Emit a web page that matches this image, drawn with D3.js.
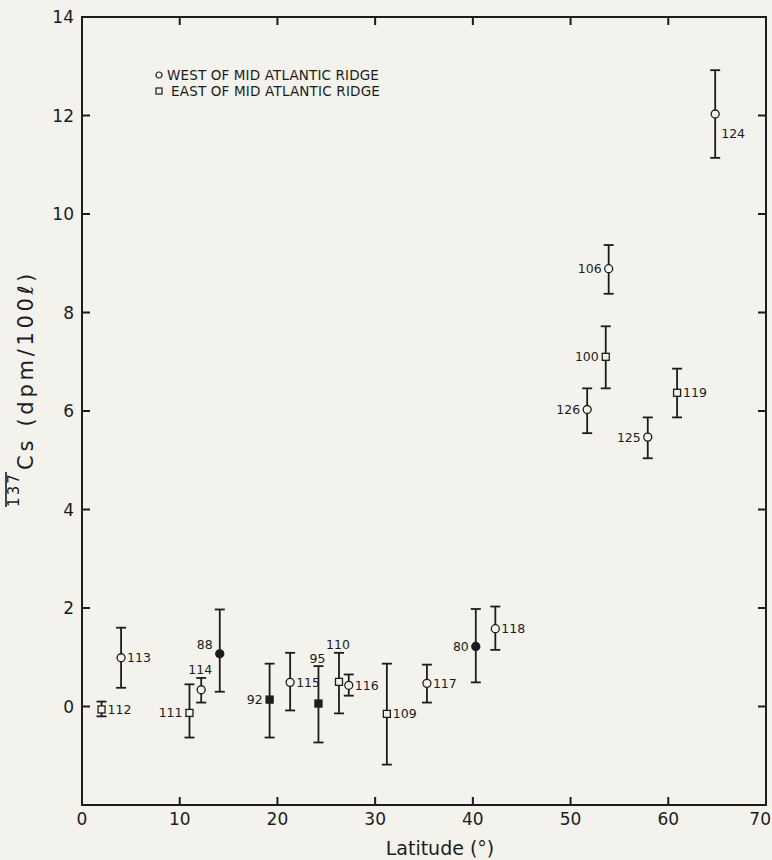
<!DOCTYPE html>
<html>
<head>
<meta charset="utf-8">
<script src="https://cdn.jsdelivr.net/npm/d3@7"></script>
<style>
	html, body { margin: 0; padding: 0; background: #f3f2ed; }
	svg { display: block; }
	text { font-family: 'DejaVu Sans', sans-serif; fill: #1c1c1c; }
</style>
</head>
<body>
<div id="chart"></div>
<script>
// station numbers and readings (latitude in degrees, 137Cs in dpm/100 l)
var stations = ['112', '113', '111', '114', '88', '92', '115', '95', '110', '116',
								'109', '117', '80', '118', '126', '100', '106', '125', '119', '124'];
var latitude = [2, 4, 11, 12.2, 14.1, 19.2, 21.3, 24.2, 26.3, 27.3,
								31.2, 35.3, 40.3, 42.3, 51.7, 53.6, 53.9, 57.9, 60.9, 64.8];
var cesium = [-0.06, 0.99, -0.13, 0.34, 1.07, 0.14, 0.49, 0.06, 0.5, 0.43,
							-0.15, 0.47, 1.22, 1.58, 6.03, 7.1, 8.89, 5.47, 6.37, 12.03];
var errHigh = [0.1, 1.6, 0.45, 0.58, 1.97, 0.87, 1.09, 0.82, 1.09, 0.65,
							 0.87, 0.85, 1.98, 2.03, 6.46, 7.72, 9.37, 5.87, 6.86, 12.92];
var errLow = [-0.2, 0.38, -0.63, 0.08, 0.3, -0.63, -0.08, -0.73, -0.14, 0.22,
							-1.18, 0.08, 0.49, 1.15, 5.55, 6.46, 8.38, 5.04, 5.87, 11.14];
var shapes = ['square', 'circle', 'square', 'circle', 'circle', 'square', 'circle', 'square', 'square', 'circle',
							'square', 'circle', 'circle', 'circle', 'circle', 'square', 'circle', 'circle', 'square', 'circle'];
var filled = [false, false, false, false, true, true, false, true, false, false,
							false, false, true, false, false, false, false, false, false, false];

var xTicks = [0, 10, 20, 30, 40, 50, 60, 70];
var yTicks = [0, 2, 4, 6, 8, 10, 12, 14];
var legendItems = ['WEST OF MID ATLANTIC RIDGE', 'EAST OF MID ATLANTIC RIDGE'];

// where each station number sits next to its point
var labelSide = {
	'111': 'left', '92': 'left', '80': 'left', '126': 'left', '100': 'left',
	'106': 'left', '125': 'left', '88': 'upleft',
	'114': 'top', '95': 'top', '110': 'top', '124': 'lowright'
};

var width = 772, height = 860;
var ink = '#1c1c1c';
var paper = '#f3f2ed';

var svg = d3.select('#chart').append('svg')
	.attr('width', width)
	.attr('height', height);

var x = d3.scaleLinear().domain([0, 70]).range([82, 766]);
var y = d3.scaleLinear().domain([-2, 14]).range([805, 17]);

var data = stations.map(function (s, i) {
	return {
		id: s, lat: latitude[i], v: cesium[i],
		hi: errHigh[i], lo: errLow[i],
		shape: shapes[i], filled: filled[i]
	};
});

// stretch a text element out to a given length with letter spacing
function spreadTo (el, len) {
	var n = el.textContent.length;
	var cur = el.getComputedTextLength();
	d3.select(el).style('letter-spacing', ((len - cur) / n) + 'px');
};

// frame
var frame = svg.append('g')
	.attr('stroke', ink)
	.attr('stroke-width', 2)
	.attr('fill', 'none');

frame.append('rect')
	.attr('x', x(0))
	.attr('y', y(14))
	.attr('width', x(70) - x(0))
	.attr('height', y(-2) - y(14));

var tickLen = 8;

// bottom and top ticks (inward)
frame.selectAll('.xb').data(xTicks.slice(1, -1)).enter().append('line')
	.attr('x1', function (d) { return x(d); })
	.attr('x2', function (d) { return x(d); })
	.attr('y1', y(-2))
	.attr('y2', y(-2) - tickLen);

frame.selectAll('.xt').data(xTicks.slice(1, -1)).enter().append('line')
	.attr('x1', function (d) { return x(d); })
	.attr('x2', function (d) { return x(d); })
	.attr('y1', y(14))
	.attr('y2', y(14) + tickLen);

// left and right ticks (inward)
frame.selectAll('.yl').data(yTicks.slice(0, -1)).enter().append('line')
	.attr('x1', x(0))
	.attr('x2', x(0) + tickLen)
	.attr('y1', function (d) { return y(d); })
	.attr('y2', function (d) { return y(d); });

frame.selectAll('.yr').data(yTicks.slice(0, -1)).enter().append('line')
	.attr('x1', x(70))
	.attr('x2', x(70) - tickLen)
	.attr('y1', function (d) { return y(d); })
	.attr('y2', function (d) { return y(d); });

// tick labels
svg.selectAll('.xlab').data(xTicks).enter().append('text')
	.attr('x', function (d) { return d === 70 ? width - 1 : x(d); })
	.attr('y', y(-2) + 20)
	.attr('text-anchor', function (d) { return d === 70 ? 'end' : 'middle'; })
	.style('font-size', '17px')
	.text(function (d) { return d; });

svg.selectAll('.ylab').data(yTicks).enter().append('text')
	.attr('x', x(0) - 8)
	.attr('y', function (d) { return y(d); })
	.attr('dy', '0.36em')
	.attr('text-anchor', 'end')
	.style('font-size', '17px')
	.text(function (d) { return d; });

// axis titles
svg.append('text')
	.attr('x', 440)
	.attr('y', 855)
	.attr('text-anchor', 'middle')
	.style('font-size', '19px')
	.text('Latitude (°)');

var yTitle = svg.append('g')
	.attr('transform', 'translate(33, 507) rotate(-90)');

var mass = yTitle.append('text')
	.attr('x', 0)
	.attr('y', -14)
	.style('font-size', '15px')
	.text('137');
spreadTo(mass.node(), 35);

var unit = yTitle.append('text')
	.attr('x', 37)
	.attr('y', 0)
	.style('font-size', '21px')
	.text('Cs (dpm/100ℓ)');
spreadTo(unit.node(), 200);

// overline across the mass number
yTitle.append('line')
	.attr('x1', 0)
	.attr('x2', 35)
	.attr('y1', -27)
	.attr('y2', -27)
	.attr('stroke', ink)
	.attr('stroke-width', 1.6);

// legend
var legend = svg.append('g')
	.attr('transform', 'translate(159, 75)');

legendItems.forEach(function (t, i) {
	var g = legend.append('g')
		.attr('transform', 'translate(0,' + (i * 16) + ')');
	if (i === 0) {
		g.append('circle').attr('r', 3)
			.attr('fill', 'none').attr('stroke', ink).attr('stroke-width', 1.2);
	} else {
		g.append('rect').attr('x', -3).attr('y', -3).attr('width', 6).attr('height', 6)
			.attr('fill', 'none').attr('stroke', ink).attr('stroke-width', 1.2);
	}
	var lt = g.append('text')
		.attr('x', i === 0 ? 8 : 12)
		.attr('dy', '0.36em')
		.style('font-size', '13.5px')
		.text(t);
	spreadTo(lt.node(), i === 0 ? 212 : 209);
});

// points with error bars
var pts = svg.append('g').selectAll('g')
	.data(data).enter().append('g')
	.attr('class', 'pt');

var cap = 5;

pts.append('line')
	.attr('x1', function (d) { return x(d.lat); })
	.attr('x2', function (d) { return x(d.lat); })
	.attr('y1', function (d) { return y(d.hi); })
	.attr('y2', function (d) { return y(d.lo); })
	.attr('stroke', ink)
	.attr('stroke-width', 1.8);

pts.append('line')
	.attr('x1', function (d) { return x(d.lat) - cap; })
	.attr('x2', function (d) { return x(d.lat) + cap; })
	.attr('y1', function (d) { return y(d.hi); })
	.attr('y2', function (d) { return y(d.hi); })
	.attr('stroke', ink)
	.attr('stroke-width', 1.8);

pts.append('line')
	.attr('x1', function (d) { return x(d.lat) - cap; })
	.attr('x2', function (d) { return x(d.lat) + cap; })
	.attr('y1', function (d) { return y(d.lo); })
	.attr('y2', function (d) { return y(d.lo); })
	.attr('stroke', ink)
	.attr('stroke-width', 1.8);

pts.each(function (d) {
	var g = d3.select(this);
	var fill = d.filled ? ink : paper;
	if (d.shape === 'circle') {
		g.append('circle')
			.attr('cx', x(d.lat))
			.attr('cy', y(d.v))
			.attr('r', 4)
			.attr('fill', fill)
			.attr('stroke', ink)
			.attr('stroke-width', 1.3);
	} else {
		g.append('rect')
			.attr('x', x(d.lat) - 3.5)
			.attr('y', y(d.v) - 3.5)
			.attr('width', 7)
			.attr('height', 7)
			.attr('fill', fill)
			.attr('stroke', ink)
			.attr('stroke-width', 1.3);
	}
});

pts.append('text')
	.style('font-size', '12.5px')
	.attr('dy', '0.36em')
	.attr('text-anchor', function (d) {
		var s = labelSide[d.id] || 'right';
		if (s === 'left' || s === 'upleft') { return 'end'; }
		if (s === 'top') { return 'middle'; }
		return 'start';
	})
	.attr('x', function (d) {
		var s = labelSide[d.id] || 'right';
		if (s === 'left' || s === 'upleft') { return x(d.lat) - 7; }
		if (s === 'top') { return x(d.lat) - 1; }
		return x(d.lat) + 6;
	})
	.attr('y', function (d) {
		var s = labelSide[d.id] || 'right';
		if (s === 'top') { return y(d.hi) - 8; }
		if (s === 'upleft') { return y(d.v) - 9; }
		if (s === 'lowright') { return y(d.v) + 19; }
		return y(d.v);
	})
	.text(function (d) { return d.id; });
</script>
</body>
</html>
